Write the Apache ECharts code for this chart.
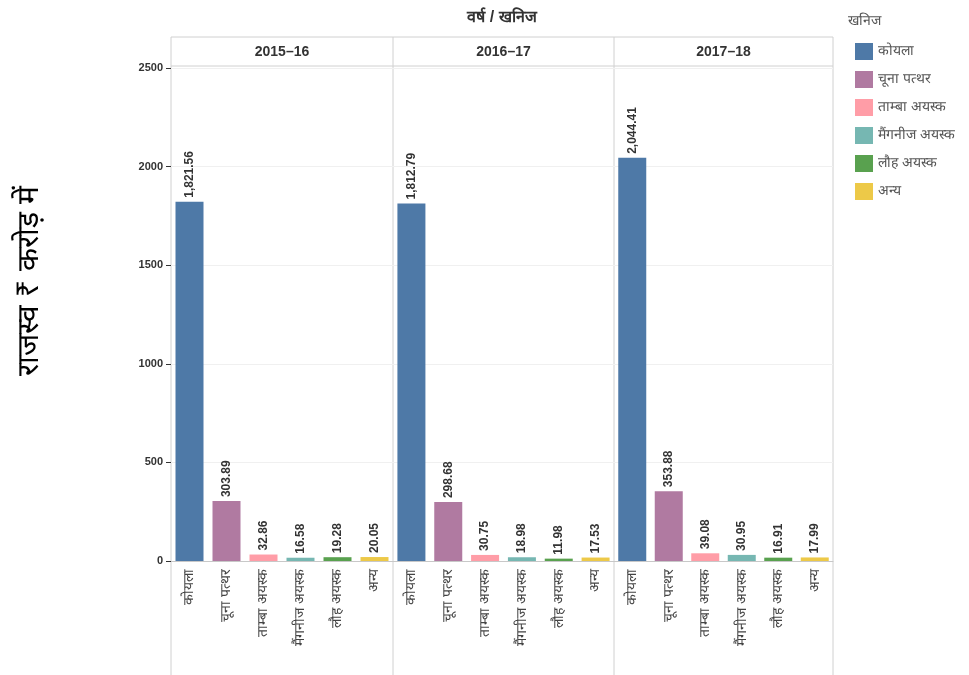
<!DOCTYPE html>
<html>
<head>
<meta charset="utf-8">
<script src="https://cdn.jsdelivr.net/npm/echarts@6/dist/echarts.min.js"></script>
<style>
  html, body { margin: 0; padding: 0; background: #fff; }
  #main { width: 969px; height: 675px; }
</style>
</head>
<body>
<div id="main"></div>
<script>
// खनिज और वर्ष
var minerals = ['कोयला', 'चूना पत्थर', 'ताम्बा अयस्क', 'मैंगनीज अयस्क', 'लौह अयस्क', 'अन्य'];
var years = ['2015–16', '2016–17', '2017–18'];

// राजस्व (₹ करोड़)
var rev2015 = [1821.56, 303.89, 32.86, 16.58, 19.28, 20.05];
var rev2016 = [1812.79, 298.68, 30.75, 18.98, 11.98, 17.53];
var rev2017 = [2044.41, 353.88, 39.08, 30.95, 16.91, 17.99];
var yTicks = [0, 500, 1000, 1500, 2000, 2500];

var colors = ['#4e79a7', '#b07aa1', '#ff9da7', '#76b7b2', '#59a14f', '#edc948'];
var allRev = [rev2015, rev2016, rev2017];

var panelLeft = [171, 393, 614];
var panelWidth = [222, 221, 219];
var top0 = 68, plotH = 493;

var myChart = echarts.init(document.getElementById('main'));

var grids = [], xAxes = [], yAxes = [], series = [];
for (var g = 0; g < 3; g++) {
    grids.push({ left: panelLeft[g], width: panelWidth[g], top: top0, height: plotH });
    xAxes.push({
        type: 'category', gridIndex: g, data: minerals,
        axisLine: { lineStyle: { color: '#c8c8c8' } },
        axisTick: { show: false },
        axisLabel: { rotate: 90, interval: 0, margin: 8, fontSize: 14, color: '#444' }
    });
    yAxes.push({
        type: 'value', gridIndex: g, min: yTicks[0], max: yTicks[yTicks.length - 1], interval: 500,
        axisLine: { show: false },
        axisTick: { show: g === 0, length: 5, lineStyle: { color: '#333' } },
        axisLabel: { show: g === 0, fontSize: 11, fontWeight: 'bold', color: '#333', margin: 8,
            formatter: function (v) { return String(v); } },
        splitLine: { lineStyle: { color: '#f0f0f0' } }
    });
    for (var m = 0; m < minerals.length; m++) {
        var d = minerals.map(function (c, i) { return i === m ? allRev[g][i] : null; });
        series.push({
            name: minerals[m], type: 'bar', xAxisIndex: g, yAxisIndex: g,
            stack: 'p' + g, barWidth: 28, data: d,
            itemStyle: { color: colors[m] },
            label: {
                show: true, position: 'top', rotate: 90, align: 'left', verticalAlign: 'middle',
                distance: 4, fontSize: 12, fontWeight: 'bold', color: '#333',
                formatter: function (p) {
                    return p.value.toLocaleString('en-US', { minimumFractionDigits: 2, maximumFractionDigits: 2 });
                }
            }
        });
    }
}

var graphics = [
    { type: 'text', style: { text: 'वर्ष / खनिज', x: 502, y: 18, align: 'center', verticalAlign: 'middle', font: 'bold 16px sans-serif', fill: '#333' } },
    { type: 'text', style: { text: 'खनिज', x: 848, y: 21, verticalAlign: 'middle', font: '14px sans-serif', fill: '#555' } },
    { type: 'text', x: 30, y: 281, rotation: Math.PI / 2, style: { text: 'राजस्व ₹ करोड़ में', align: 'center', verticalAlign: 'middle', font: '30px sans-serif', fill: '#000' } },
    { type: 'line', shape: { x1: 171, y1: 37, x2: 833, y2: 37 }, style: { stroke: '#d0d0d0' } },
    { type: 'line', shape: { x1: 171, y1: 66, x2: 833, y2: 66 }, style: { stroke: '#d0d0d0' } }
];
var borders = [171, 393, 614, 833];
borders.forEach(function (x) {
    graphics.push({ type: 'line', shape: { x1: x, y1: 37, x2: x, y2: 675 }, style: { stroke: '#d0d0d0' } });
});
years.forEach(function (y, g) {
    graphics.push({ type: 'text', style: { text: y, x: panelLeft[g] + panelWidth[g] / 2, y: 52, align: 'center', verticalAlign: 'middle', font: 'bold 14px sans-serif', fill: '#333' } });
});

var option = {
    animation: false,
    legend: {
        orient: 'vertical', left: 850, top: 38, itemWidth: 18, itemHeight: 17, itemGap: 11,
        icon: 'rect', data: minerals, selectedMode: false,
        textStyle: { fontSize: 14, color: '#555' }
    },
    grid: grids,
    xAxis: xAxes,
    yAxis: yAxes,
    series: series,
    graphic: graphics
};
myChart.setOption(option);
</script>
</body>
</html>
